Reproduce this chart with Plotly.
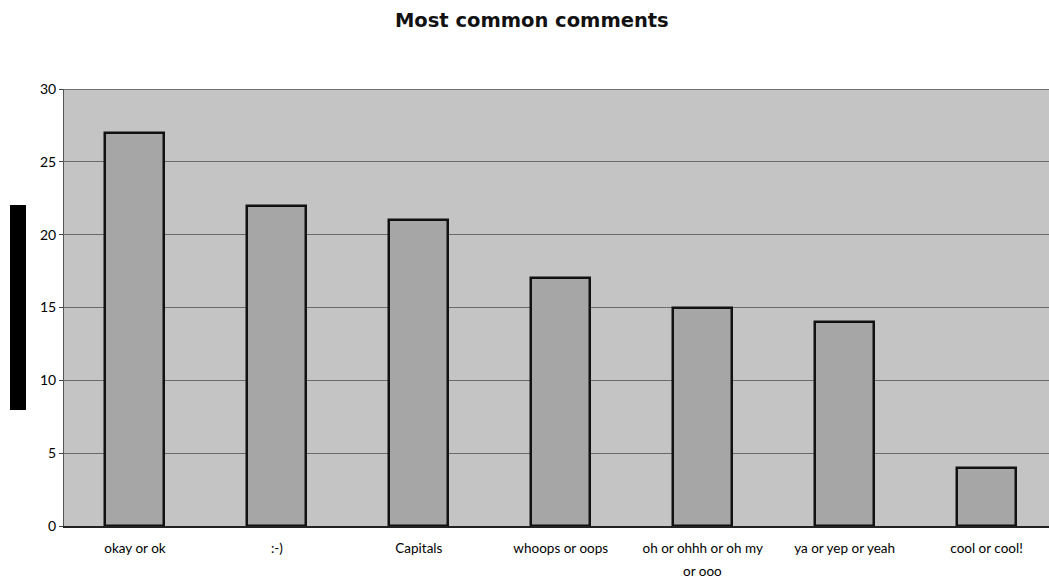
import plotly.graph_objects as go

categories = ["okay or ok", ":-)", "Capitals", "whoops or oops",
              "oh or ohhh or oh my<br>or ooo", "ya or yep or yeah", "cool or cool!"]
counts = [27, 22, 21, 17, 15, 14, 4]
y_ticks = [0, 5, 10, 15, 20, 25, 30]

label_font = dict(size=13.5, family="Lato, sans-serif", color="#000000")

fig = go.Figure()
fig.add_trace(go.Bar(
    x=list(range(len(categories))),
    y=counts,
    width=0.416,
    marker=dict(color="#a6a6a6", line=dict(color="#111111", width=2.5)),
))

fig.update_layout(
    width=1049, height=584,
    margin=dict(l=64, r=0, t=89, b=58),
    paper_bgcolor="white",
    plot_bgcolor="#c4c4c4",
    showlegend=False,
    bargap=0,
    title=dict(text="<b>Most common comments</b>", x=0.507, xanchor="center",
               y=0.966, yanchor="middle",
               font=dict(family="DejaVu Sans, Liberation Sans", size=19.5, color="#111111")),
    font=dict(family="Lato, Open Sans, sans-serif", size=12, color="#111111"),
)

# first line of each category goes on the axis, any further lines sit below it
first_lines = [c.split("<br>")[0] for c in categories]
for i, c in enumerate(categories):
    for k, extra in enumerate(c.split("<br>")[1:], start=1):
        fig.add_annotation(x=i, xref="x", y=0, yref="paper", yshift=-(21 + 24 * k),
                           text=extra, showarrow=False, font=label_font,
                           yanchor="middle")

fig.update_xaxes(
    range=[-0.5, 6.44],
    tickmode="array", tickvals=list(range(len(categories))), ticktext=first_lines,
    showgrid=False, zeroline=False,
    showline=True, linecolor="#222222", linewidth=1.5,
    ticks="", ticklabelstandoff=9, tickfont=label_font,
)
fig.update_yaxes(
    range=[0, 30],
    tickmode="array", tickvals=y_ticks, ticktext=[str(v) for v in y_ticks],
    showgrid=True, gridcolor="#6a6a6a", gridwidth=1.4,
    zeroline=False,
    showline=True, linecolor="#555555", linewidth=1, mirror=False,
    ticks="outside", ticklen=4, tickcolor="#444444",
    tickfont=dict(size=14, family="Lato, sans-serif", color="#000000"),
)

# top border of the plotting area
fig.add_shape(type="line", xref="paper", yref="y", x0=0, x1=1, y0=30, y1=30,
              line=dict(color="#555555", width=1.5))

# solid black block to the left of the value axis
fig.add_shape(type="rect", xref="paper", yref="paper",
              x0=-54 / 985, x1=-38 / 985, y0=(526 - 410) / 437, y1=(526 - 205) / 437,
              fillcolor="black", line=dict(width=0))

fig.write_html("out.html")
